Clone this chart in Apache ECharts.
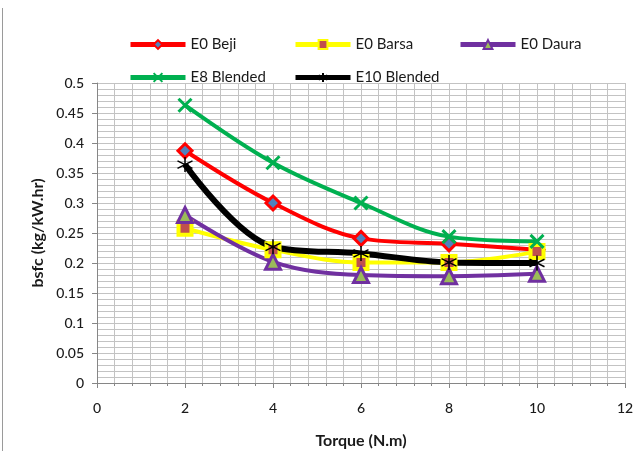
<!DOCTYPE html>
<html>
<head>
<meta charset="utf-8">
<script src="https://cdn.jsdelivr.net/npm/echarts@6/dist/echarts.min.js"></script>
<style>
  html, body { margin: 0; padding: 0; background: #fff; }
  #chart { width: 643px; height: 451px; }
</style>
</head>
<body>
<div id="chart"></div>
<script>
// Torque points (N.m)
const torque = [2, 4, 6, 8, 10];

// Brake specific fuel consumption (kg/kW.hr) for each fuel
const e0Beji = [0.387, 0.300, 0.241, 0.232, 0.222];
const e0Barsa = [0.258, 0.222, 0.201, 0.201, 0.219];
const e0Daura = [0.280, 0.202, 0.180, 0.178, 0.182];
const e8Blended = [0.463, 0.367, 0.300, 0.244, 0.236];
const e10Blended = [0.364, 0.227, 0.216, 0.201, 0.200];

const seriesNames = ['E0 Beji', 'E0 Barsa', 'E0 Daura', 'E8 Blended', 'E10 Blended'];

const pairs = (ys) => torque.map((x, i) => [x, ys[i]]);

const FONT = 'Lato, "Liberation Sans", sans-serif';
const TEXT = '#1a1a1a';
const GRID = '#c3c3c3';

const crossPath = 'path://M0,0 L10,10 M10,0 L0,10';
const starPath = 'path://M5,0 L5,10 M0.7,2.5 L9.3,7.5 M9.3,2.5 L0.7,7.5';

function lineSeries(name, data, lineColor, width, symbol, size, fill, border, bw) {
  return {
    name: name,
    type: 'line',
    data: pairs(data),
    smooth: 0.35,
    symbol: symbol,
    symbolSize: size,
    lineStyle: { color: lineColor, width: width },
    itemStyle: { color: fill, borderColor: border, borderWidth: bw },
    emphasis: { disabled: true },
    z: 3
  };
}

function legendAt(name, left, top) {
  return {
    data: [name],
    left: left,
    top: top,
    itemWidth: 55,
    itemHeight: 11,
    itemGap: 4,
    lineStyle: { width: 5 },
    textStyle: { fontFamily: FONT, fontSize: 15, color: TEXT },
    selectedMode: false
  };
}

const chart = echarts.init(document.getElementById('chart'), null, { renderer: 'canvas' });

chart.setOption({
  animation: false,
  backgroundColor: '#ffffff',
  legend: [
    legendAt(seriesNames[0], 123, 32),
    legendAt(seriesNames[1], 288, 32),
    legendAt(seriesNames[2], 453, 32),
    legendAt(seriesNames[3], 123, 65),
    legendAt(seriesNames[4], 288, 65)
  ],
  grid: { left: 97, right: 18, top: 83, bottom: 68, containLabel: false, outerBoundsMode: 'none' },
  xAxis: {
    type: 'value',
    min: 0,
    max: 12,
    interval: 2,
    name: 'Torque (N.m)',
    nameLocation: 'middle',
    nameGap: 50,
    nameTextStyle: { fontFamily: FONT, fontSize: 16, fontWeight: 'bold', color: TEXT },
    axisLine: { show: true, lineStyle: { color: '#868686', width: 1 } },
    axisTick: { show: true, inside: false, length: 5, lineStyle: { color: '#868686' } },
    minorTick: { show: true, splitNumber: 5, length: 3, lineStyle: { color: '#868686' } },
    axisLabel: { fontFamily: FONT, fontSize: 14, fontWeight: 500, color: TEXT, margin: 18 },
    splitLine: { show: true, lineStyle: { color: GRID, width: 1 } },
    minorSplitLine: { show: true, lineStyle: { color: GRID, width: 1 } }
  },
  yAxis: {
    type: 'value',
    min: 0,
    max: 0.5,
    interval: 0.05,
    name: 'bsfc (kg/kW.hr)',
    nameLocation: 'middle',
    nameGap: 50,
    nameRotate: 90,
    nameTextStyle: { fontFamily: FONT, fontSize: 16, fontWeight: 'bold', color: TEXT },
    axisLine: { show: true, lineStyle: { color: '#868686', width: 1 } },
    axisTick: { show: true, inside: false, length: 5, lineStyle: { color: '#868686' } },
    minorTick: { show: false, splitNumber: 5 },
    axisLabel: {
      fontFamily: FONT, fontSize: 14, fontWeight: 500, color: TEXT, margin: 13,
      formatter: (v) => String(parseFloat(v.toFixed(2)))
    },
    splitLine: { show: true, lineStyle: { color: GRID, width: 1 } },
    minorSplitLine: { show: true, lineStyle: { color: GRID, width: 1 } }
  },
  graphic: [
    { type: 'line', shape: { x1: 2.5, y1: 8, x2: 2.5, y2: 451 }, style: { stroke: '#9a9a9a', lineWidth: 1 } }
  ],
  series: [
    lineSeries(seriesNames[0], e0Beji, '#ff0000', 4, 'diamond', 14, '#4f81bd', '#ff0000', 3),
    lineSeries(seriesNames[1], e0Barsa, '#ffff00', 4, 'rect', 13, '#c0504d', '#ffff00', 4),
    lineSeries(seriesNames[2], e0Daura, '#7030a0', 4, 'triangle', 15, '#9bbb59', '#7030a0', 3),
    lineSeries(seriesNames[3], e8Blended, '#00b050', 4, crossPath, 13, 'none', '#00b050', 3),
    lineSeries(seriesNames[4], e10Blended, '#000000', 6, starPath, 15, 'none', '#000000', 1.5)
  ]
});
</script>
</body>
</html>
